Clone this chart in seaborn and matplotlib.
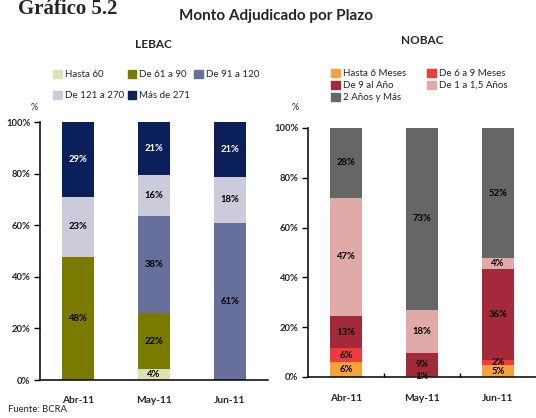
import matplotlib
matplotlib.use("Agg")
import matplotlib.pyplot as plt
import matplotlib.patches as mpatches
import seaborn as sns
import numpy as np

# datos
meses = ['Abr-11', 'May-11', 'Jun-11']

lebac_series = ['Hasta 60', 'De 61 a 90', 'De 91 a 120', 'De 121 a 270', 'Más de 271']
lebac_hasta60 = [0, 4.2, 0]
lebac_61_90 = [47.7, 21.8, 0]
lebac_91_120 = [0, 37.6, 60.9]
lebac_121_270 = [23.4, 15.8, 17.9]
lebac_mas271 = [28.9, 20.6, 21.2]
lebac_colores = ['#dfe1b0', '#7a7a00', '#676f9c', '#cbcbdc', '#0b1f5b']

nobac_series = ['Hasta 6 Meses', 'De 6 a 9 Meses', 'De 9 al Año', 'De 1 a 1,5 Años', '2 Años y Más']
nobac_hasta6 = [6.0, 0.6, 4.8]
nobac_6_9 = [5.6, 0, 2.0]
nobac_9_ano = [12.9, 8.9, 36.4]
nobac_1_15 = [47.4, 17.6, 4.4]
nobac_2mas = [28.1, 72.9, 52.4]
nobac_colores = ['#f9a23a', '#ee3b3b', '#a42a3b', '#e0aaa8', '#666666']

sns.set_style("white")
plt.rcParams['font.family'] = ['Lato', 'DejaVu Sans']

W, H = 536, 418
fig = plt.figure(figsize=(W / 100, H / 100), dpi=100)


def stacked(ax, series, colores, label_colors):
    datos = np.array(series, dtype=float)
    acum = datos.cumsum(axis=0)
    # las barras acumuladas se dibujan de arriba hacia abajo
    for i in range(len(datos) - 1, -1, -1):
        sns.barplot(x=meses, y=acum[i], color=colores[i], width=0.41,
                    saturation=1, ax=ax, linewidth=0)
    for i in range(len(datos)):
        for j in range(len(meses)):
            v = datos[i, j]
            if v <= 0:
                continue
            centro = acum[i, j] - v / 2
            ax.text(j, centro, f"{v:.0f}%", ha='center', va='center',
                    fontsize=6.8, fontweight='bold', color=label_colors[i])
    ax.set_ylim(0, 100)
    ax.set_yticks([0, 20, 40, 60, 80, 100])
    ax.set_yticklabels([f"{t}%" for t in range(0, 101, 20)])
    ax.set_ylabel('')
    ax.set_xlabel('')
    for s in ['top', 'right']:
        ax.spines[s].set_visible(False)
    for s in ['left', 'bottom']:
        ax.spines[s].set_color('black')
        ax.spines[s].set_linewidth(1.1)
    for lab in ax.get_xticklabels() + ax.get_yticklabels():
        lab.set_fontweight('bold')
    ax.tick_params(axis='y', left=True, length=4, width=1, labelsize=6.8, pad=3, color='black')
    ax.tick_params(axis='x', bottom=False, labelsize=7.3, pad=8)


def leyenda(ax, series, colores, orden, ncol, bbox, sep, colsep):
    handles = [mpatches.Patch(color=c, label=s) for s, c in zip(series, colores)]
    handles = [handles[k] for k in orden]
    ax.legend(handles=handles, ncol=ncol, loc='lower left', bbox_to_anchor=bbox,
              bbox_transform=fig.transFigure, frameon=False, fontsize=7,
              handlelength=0.9, handleheight=0.9, handletextpad=0.3,
              columnspacing=colsep, labelspacing=sep, borderpad=0, borderaxespad=0)


# LEBAC
ax1 = fig.add_axes([40 / W, 1 - 380 / H, 228 / W, 258 / H])
stacked(ax1, [lebac_hasta60, lebac_61_90, lebac_91_120, lebac_121_270, lebac_mas271],
        lebac_colores, ['black', 'black', 'black', 'black', 'white'])
leyenda(ax1, lebac_series, lebac_colores, [0, 3, 1, 4, 2], 3, (53 / W, 1 - 100 / H), 1.2, 0.4)

# NOBAC
ax2 = fig.add_axes([308 / W, 1 - 377 / H, 228 / W, 249 / H])
stacked(ax2, [nobac_hasta6, nobac_6_9, nobac_9_ano, nobac_1_15, nobac_2mas],
        nobac_colores, ['black'] * 5)
ax2.set_xticks([0.5, 1.5], minor=True)
ax2.tick_params(axis='x', which='minor', bottom=True, direction='in', length=3, width=1, color='black')
ax2.tick_params(axis='x', which='major', pad=9)
leyenda(ax2, nobac_series, nobac_colores, [0, 2, 4, 1, 3], 2, (331 / W, 1 - 102 / H), 0.25, 2.2)

# textos
fig.text(18 / W, 1 - 14 / H, 'Gráfico 5.2', family='Liberation Serif', fontweight='bold',
         fontsize=15, va='baseline', ha='left')
fig.text(276 / W, 1 - 16 / H, 'Monto Adjudicado por Plazo', fontweight='bold',
         fontsize=11, ha='center', va='center')
fig.text(153 / W, 1 - 45 / H, 'LEBAC', fontweight='bold', fontsize=8.5, ha='center', va='center')
fig.text(422 / W, 1 - 40 / H, 'NOBAC', fontweight='bold', fontsize=8.5, ha='center', va='center')
fig.text(34 / W, 1 - 107 / H, '%', fontsize=6.5, ha='center', va='center')
fig.text(295 / W, 1 - 108 / H, '%', fontsize=6.5, ha='center', va='center')
fig.text(8 / W, 1 - 410 / H, 'Fuente: BCRA', fontsize=6.8, ha='left', va='center')

fig.savefig('out.png', dpi=100)
